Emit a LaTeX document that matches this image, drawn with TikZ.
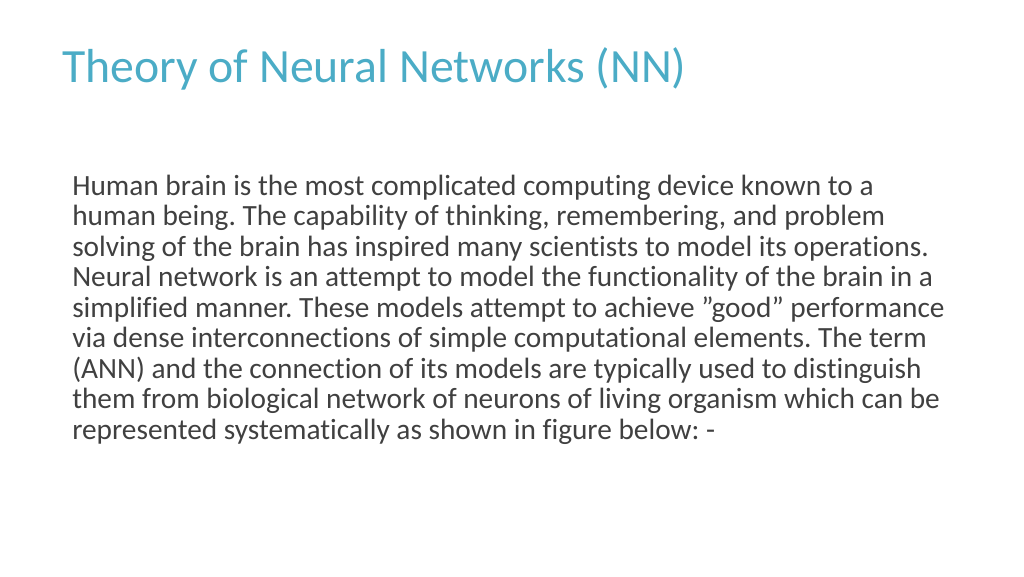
\documentclass[tikz,border=0pt]{standalone}
\usepackage{fontspec}
\setmainfont{Carlito}[Ligatures={ResetAll,NoCommon}]
\definecolor{titlec}{HTML}{4BACC6}
\definecolor{bodyc}{HTML}{404040}
\frenchspacing
\begin{document}
\begin{tikzpicture}[x=0.75pt,y=-0.75pt,
  bodyline/.style={anchor=base west,inner sep=0pt,text=bodyc,font=\fontsize{22}{24}\selectfont}]
\useasboundingbox (0,0) rectangle (1024,576);
\node[anchor=base west,inner sep=0pt,text=titlec,font=\fontsize{35.8}{40}\selectfont] (title) at (62,82) {Theory of Neural Networks (NN)};
\foreach \t [count=\i from 0] in {
 {Human brain is the most complicated computing device known to a},
 {human being. The capability of thinking, remembering, and problem},
 {solving of the brain has inspired many scientists to model its operations.},
 {Neural network is an attempt to model the functionality of the brain in a},
 {simplified manner. These models attempt to achieve "good" performance},
 {via dense interconnections of simple computational elements. The term},
 {(ANN) and the connection of its models are typically used to distinguish},
 {them from biological network of neurons of living organism which can be},
 {represented systematically as shown in figure below: -}}
 \node[bodyline] (l\i) at (72,195+30.5*\i) {\t};
\end{tikzpicture}
\end{document}
